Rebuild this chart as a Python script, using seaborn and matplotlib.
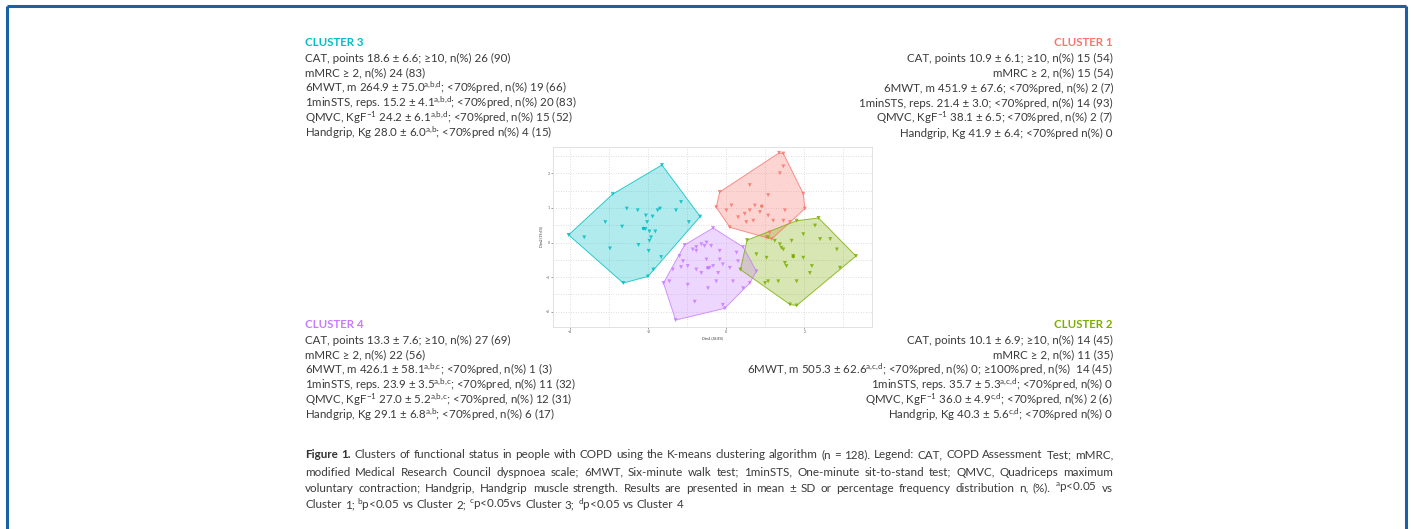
import numpy as np
import pandas as pd
import matplotlib
matplotlib.use("Agg")
import matplotlib.pyplot as plt
import seaborn as sns
from matplotlib.lines import Line2D

# ---------------- data (PCA-like coordinates) ----------------
c1_x = [-0.17, 1.35, 1.46, 1.97, 2.01, 1.16, 0.09, -0.26, 1.46, 0.60, 1.07, 0.60, 0.30, 0.51,
        0.69, 0.86, 1.07, 1.20, 1.50, 1.63, 1.11, 1.03, 0.47, 0.73, 0.13, 0.00, 1.46, 1.37]
c1_y = [1.46, 2.59, 2.57, 1.41, 0.98, 0.10, 0.44, 1.02, 2.20, 1.66, 1.37, 0.93, 0.73, 0.59,
        0.63, 0.88, 0.78, 0.63, 0.93, 0.59, 0.29, 0.15, 0.83, 1.07, 1.07, 0.93, 0.63, 2.00]

c2_x = [0.53, 1.80, 2.36, 3.32, 1.80, 1.63, 0.99, 0.36, 1.07, 1.37, 1.41, 1.46, 1.71, 1.97,
        2.27, 2.40, 2.66, 2.83, 2.91, 2.19, 2.14, 1.54, 1.50, 1.07, 1.33, 1.03, 0.77, 1.97,
        1.67, 1.24, 1.80]
c2_y = [0.07, 0.63, 0.71, -0.39, -1.82, -1.79, -1.17, -0.78, 0.15, -0.05, -0.15, -0.20, -0.39,
        0.24, 0.49, 0.10, 0.10, -0.20, -0.73, -0.68, -0.88, -0.68, -0.59, -1.12, -1.12, -0.44,
        -0.34, -0.44, 0.05, 0.05, -1.12]

c3_x = [-4.04, -2.91, -1.65, -0.67, -2.01, -2.64, -3.64, -3.10, -2.98, -2.67, -2.55, -2.27,
        -2.25, -2.06, -2.03, -2.07, -1.97, -1.93, -1.99, -1.76, -1.70, -1.67, -1.87, -1.29,
        -1.16, -0.96, -1.89, -1.82, -1.97]
c3_y = [0.22, 1.40, 2.24, 0.75, -0.98, -1.17, 0.15, 0.59, -0.17, 0.46, 0.98, 0.93, -0.07,
        0.78, 0.59, 0.39, 0.32, 0.15, -0.24, 0.93, 0.98, -0.42, -0.78, 0.93, 1.17, 0.59,
        0.75, 0.32, 0.05]

c4_x = [-1.07, -0.34, 0.43, 0.77, 0.60, -0.04, -1.30, -1.61, -0.77, -0.64, -0.56, -0.51,
        -0.39, -0.77, -0.86, -0.51, -0.17, -0.09, -0.34, -0.43, -1.11, -1.16, -0.99, -1.37,
        -0.77, -0.64, -0.21, 0.26, 0.30, 0.09, 0.43, -0.09, -0.81, -0.99, -1.46, -0.26,
        -0.47, 0.17, -0.17, -1.20]
c4_y = [-0.07, 0.42, -0.13, -0.83, -1.17, -1.90, -2.24, -1.17, -0.13, -0.05, -0.10, 0.00,
        -0.10, -0.24, -0.20, -0.49, -0.49, -0.63, -0.68, -0.73, -0.54, -0.71, -0.68, -0.78,
        -0.78, -0.88, -0.88, -0.29, -0.54, -0.73, -1.32, -1.80, -1.71, -1.22, -1.12, -1.12,
        -1.32, -1.12, -0.24, -0.39]

cluster_names = ["1", "2", "3", "4"]
cluster_colors = ["#F8766D", "#7CAE00", "#00BFC4", "#C77CFF"]
x_ticks = [-4, -2, 0, 2]
y_ticks = [-2, -1, 0, 1, 2]
x_label = "Dim1 (38.8%)"
y_label = "Dim2 (19.6%)"

title_c3 = "CLUSTER 3"
lines_c3 = [
    r"CAT, points 18.6 ± 6.6; ≥10, n(%) 26 (90)",
    r"mMRC ≥ 2, n(%) 24 (83)",
    r"6MWT, m 264.9 ± 75.0$^{\mathrm{a{,}b{,}d}}$; <70%pred, n(%) 19 (66)",
    r"1minSTS, reps. 15.2 ± 4.1$^{\mathrm{a{,}b{,}d}}$; <70%pred, n(%) 20 (83)",
    r"QMVC, KgF$^{\mathrm{-1}}$ 24.2 ± 6.1$^{\mathrm{a{,}b{,}d}}$; <70%pred, n(%) 15 (52)",
    r"Handgrip, Kg 28.0 ± 6.0$^{\mathrm{a{,}b}}$; <70%pred n(%) 4 (15)",
]
title_c1 = "CLUSTER 1"
lines_c1 = [
    r"CAT, points 10.9 ± 6.1; ≥10, n(%) 15 (54)",
    r"mMRC ≥ 2, n(%) 15 (54)",
    r"6MWT, m 451.9 ± 67.6; <70%pred, n(%) 2 (7)",
    r"1minSTS, reps. 21.4 ± 3.0; <70%pred, n(%) 14 (93)",
    r"QMVC, KgF$^{\mathrm{-1}}$ 38.1 ± 6.5; <70%pred, n(%) 2 (7)",
    r"Handgrip, Kg 41.9 ± 6.4; <70%pred n(%) 0",
]
title_c4 = "CLUSTER 4"
lines_c4 = [
    r"CAT, points 13.3 ± 7.6; ≥10, n(%) 27 (69)",
    r"mMRC ≥ 2, n(%) 22 (56)",
    r"6MWT, m 426.1 ± 58.1$^{\mathrm{a{,}b{,}c}}$; <70%pred, n(%) 1 (3)",
    r"1minSTS, reps. 23.9 ± 3.5$^{\mathrm{a{,}b{,}c}}$; <70%pred, n(%) 11 (32)",
    r"QMVC, KgF$^{\mathrm{-1}}$ 27.0 ± 5.2$^{\mathrm{a{,}b{,}c}}$; <70%pred, n(%) 12 (31)",
    r"Handgrip, Kg 29.1 ± 6.8$^{\mathrm{a{,}b}}$; <70%pred, n(%) 6 (17)",
]
title_c2 = "CLUSTER 2"
lines_c2 = [
    r"CAT, points 10.1 ± 6.9; ≥10, n(%) 14 (45)",
    r"mMRC ≥ 2, n(%) 11 (35)",
    r"6MWT, m 505.3 ± 62.6$^{\mathrm{a{,}c{,}d}}$; <70%pred, n(%) 0; ≥100%pred, n(%)  14 (45)",
    r"1minSTS, reps. 35.7 ± 5.3$^{\mathrm{a{,}c{,}d}}$; <70%pred, n(%) 0",
    r"QMVC, KgF$^{\mathrm{-1}}$ 36.0 ± 4.9$^{\mathrm{c{,}d}}$; <70%pred, n(%) 2 (6)",
    r"Handgrip, Kg 40.3 ± 5.6$^{\mathrm{c{,}d}}$; <70%pred n(%) 0",
]
caption_lines = [
    r"Clusters of functional status in people with COPD using the K-means clustering algorithm (n = 128). Legend: CAT, COPD Assessment Test; mMRC,",
    r"modified Medical Research Council dyspnoea scale; 6MWT, Six-minute walk test; 1minSTS, One-minute sit-to-stand test; QMVC, Quadriceps maximum",
    r"voluntary contraction; Handgrip, Handgrip muscle strength. Results are presented in mean ± SD or percentage frequency distribution n, (%). $^{\mathrm{a}}$p<0.05 vs",
    r"Cluster 1; $^{\mathrm{b}}$p<0.05 vs Cluster 2; $^{\mathrm{c}}$p<0.05vs Cluster 3; $^{\mathrm{d}}$p<0.05 vs Cluster 4",
]
caption_bold = "Figure 1."

# ---------------- styling ----------------
sns.set_theme(style="white")
FONT = ["Lato", "DejaVu Sans"]
plt.rcParams["font.family"] = FONT
plt.rcParams["mathtext.fontset"] = "custom"
plt.rcParams["mathtext.rm"] = "Lato"
plt.rcParams["mathtext.it"] = "Lato:italic"
plt.rcParams["mathtext.bf"] = "Lato:bold"

W, H = 1411, 529
fig = plt.figure(figsize=(W / 100, H / 100), dpi=100)
fig.patch.set_facecolor("white")


def fx(px):
    return px / W


def fy(py):
    return 1 - py / H


# blue frame (open at bottom)
frame_col = "#1a62a3"
for xs, ys in [([7, 7], [600, 6]), ([7, 1406], [6, 6]), ([1406, 1406], [6, 600])]:
    fig.add_artist(Line2D([fx(v) for v in xs], [fy(v) for v in ys], color=frame_col,
                          lw=2.2, transform=fig.transFigure, solid_capstyle="butt"))

# ---------------- scatter panel ----------------
ax = fig.add_axes([fx(553), fy(327), fx(872) - fx(553), fy(147) - fy(327)])
df = pd.concat([
    pd.DataFrame({"x": c1_x, "y": c1_y, "cluster": "1"}),
    pd.DataFrame({"x": c2_x, "y": c2_y, "cluster": "2"}),
    pd.DataFrame({"x": c3_x, "y": c3_y, "cluster": "3"}),
    pd.DataFrame({"x": c4_x, "y": c4_y, "cluster": "4"}),
], ignore_index=True)


def convex_hull(pts):
    pts = sorted(set(pts))
    if len(pts) < 3:
        return pts

    def cross(o, a, b):
        return (a[0] - o[0]) * (b[1] - o[1]) - (a[1] - o[1]) * (b[0] - o[0])
    lower, upper = [], []
    for p in pts:
        while len(lower) >= 2 and cross(lower[-2], lower[-1], p) <= 0:
            lower.pop()
        lower.append(p)
    for p in reversed(pts):
        while len(upper) >= 2 and cross(upper[-2], upper[-1], p) <= 0:
            upper.pop()
        upper.append(p)
    return lower[:-1] + upper[:-1]


pal = dict(zip(cluster_names, cluster_colors))
for name in cluster_names:
    sub = df[df.cluster == name]
    hull = convex_hull(list(zip(sub.x, sub.y)))
    hx = [p[0] for p in hull]
    hy = [p[1] for p in hull]
    ax.fill(hx, hy, facecolor=pal[name], alpha=0.3, lw=0, zorder=1)
    ax.fill(hx, hy, facecolor="none", edgecolor=pal[name], lw=0.7, alpha=0.8, zorder=2)

sns.scatterplot(data=df, x="x", y="y", hue="cluster", palette=pal, marker="v",
                s=8, linewidth=0, alpha=0.85, legend=False, ax=ax, zorder=3)
cent = df.groupby("cluster")[["x", "y"]].mean()
sns.scatterplot(x=cent.x, y=cent.y, hue=cent.index, palette=pal, s=6, marker="o",
                linewidth=0, legend=False, ax=ax, zorder=4)

ax.set_xlim(-4.44, 3.73)
ax.set_ylim(-2.44, 2.76)
ax.set_xticks(x_ticks)
ax.set_yticks(y_ticks)
ax.set_xticks([-3, -1, 1, 3], minor=True)
ax.set_yticks([-1.5, -0.5, 0.5, 1.5, 2.5], minor=True)
ax.grid(True, which="both", color="#d4d4d4", lw=0.6, ls=(0, (1, 2)))
ax.set_axisbelow(True)
ax.tick_params(labelsize=2.5, length=1.2, width=0.4, pad=1, colors="#555555",
               which="major", bottom=True, left=True)
ax.tick_params(which="minor", length=0)
ax.set_xlabel(x_label, fontsize=2.5, labelpad=1.5, color="#333333")
ax.set_ylabel(y_label, fontsize=2.5, labelpad=1.5, color="#333333")
for s in ax.spines.values():
    s.set_color("#dddddd")
    s.set_linewidth(0.6)

# ---------------- text blocks ----------------
FS = 8.3
CFS = 8.4
TEXT_COL = "#3a3a3a"


def block(title, lines, color, x, y0, ys, ha):
    fig.text(fx(x), fy(y0), title, color=color, fontsize=FS, fontweight="bold",
             ha=ha, va="center", family=FONT)
    for ln, yy in zip(lines, ys):
        fig.text(fx(x), fy(yy), ln, color=TEXT_COL, fontsize=FS, ha=ha, va="center",
                 family=FONT)


top_ys = [58, 73, 88, 103, 118, 133]
bot_ys = [340, 355, 370, 385, 400, 415]
block(title_c3, lines_c3, cluster_colors[2], 305, 43, top_ys, "left")
block(title_c1, lines_c1, cluster_colors[0], 1113, 43, top_ys, "right")
block(title_c4, lines_c4, cluster_colors[3], 305, 324, bot_ys, "left")
block(title_c2, lines_c2, cluster_colors[1], 1113, 324, bot_ys, "right")

# ---------------- caption (justified) ----------------
renderer = fig.canvas.get_renderer()
cap_left, cap_right = 305, 1113
cap_ys = [455, 472, 488, 505]


def justified(words, y, justify, bold_first=False):
    arts = []
    for i, w in enumerate(words):
        bold = bold_first and i < 2
        t = fig.text(0, fy(y), w, fontsize=CFS, color="#333333" if bold else TEXT_COL,
                     va="center", ha="left",
                     fontweight="bold" if bold else "normal", family=FONT)
        arts.append(t)
    widths = [a.get_window_extent(renderer).width for a in arts]
    space = fig.text(0, 0, "a b", fontsize=CFS, family=FONT)
    sw = space.get_window_extent(renderer).width
    space.remove()
    ab = fig.text(0, 0, "ab", fontsize=CFS, family=FONT)
    sw -= ab.get_window_extent(renderer).width
    ab.remove()
    total = sum(widths)
    avail = cap_right - cap_left
    gap = (avail - total) / (len(words) - 1) if justify else sw
    xcur = cap_left
    for a, w in zip(arts, widths):
        a.set_x(fx(xcur))
        xcur += w + gap


for i, ln in enumerate(caption_lines):
    words = ln.split(" ")
    if i == 0:
        words = caption_bold.split(" ") + words
    justified(words, cap_ys[i], justify=(i < 3), bold_first=(i == 0))

fig.savefig("out.png", dpi=100, facecolor="white")
